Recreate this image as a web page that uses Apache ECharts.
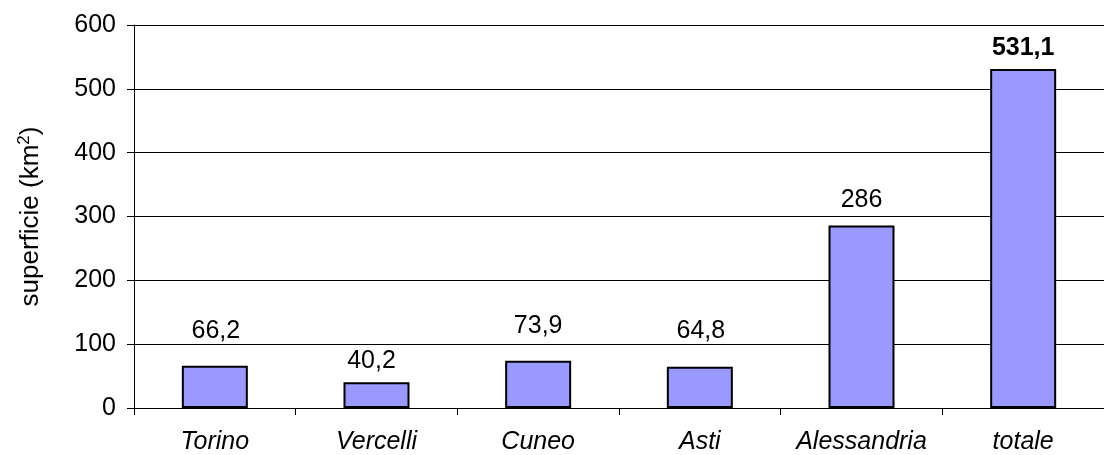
<!DOCTYPE html>
<html><head><meta charset="utf-8">
<script src="https://cdn.jsdelivr.net/npm/echarts@6/dist/echarts.min.js"></script>
<style>html,body{margin:0;padding:0;background:#fff}#c{width:1104px;height:455px}</style>
</head><body><div id="c"></div>
<script>
var categories = ['Torino', 'Vercelli', 'Cuneo', 'Asti', 'Alessandria', 'totale'];
var values = [66.2, 40.2, 73.9, 64.8, 286, 531.1];
var yTicks = [0, 100, 200, 300, 400, 500, 600];

// label placement (style only): gap above bar, horizontal nudge
var labelDistance = [22, 9, 22, 23, 13, 8];
var labelNudgeX = [1, -5, 0, 1, 0, 0];

var chart = echarts.init(document.getElementById('c'), null, {renderer: 'canvas'});
var font = 'Liberation Sans, Arial, sans-serif';
chart.setOption({
  animation: false,
  grid: {left: 134, right: -8, top: 25, bottom: 47},
  xAxis: {
    type: 'category', data: categories,
    axisLine: {lineStyle: {color: '#000', width: 1}},
    axisTick: {show: true, length: 7, interval: 0, lineStyle: {color: '#000'}},
    axisLabel: {color: '#000', fontFamily: font, fontSize: 25, fontStyle: 'italic', margin: 22, interval: 0}
  },
  yAxis: {
    type: 'value', min: yTicks[0], max: yTicks[yTicks.length - 1], interval: 100,
    name: 'superficie (km{sup|2})', nameLocation: 'middle', nameGap: 89, nameRotate: 90,
    nameTextStyle: {color: '#000', fontFamily: font, fontSize: 26,
      rich: {sup: {fontSize: 17, fontFamily: font, color: '#000', verticalAlign: 'top', padding: [0, 0, 12, 0]}}},
    axisLine: {show: true, lineStyle: {color: '#000', width: 1}},
    axisTick: {show: true, length: 7, lineStyle: {color: '#000'}},
    axisLabel: {color: '#000', fontFamily: font, fontSize: 25, margin: 18},
    splitLine: {show: true, lineStyle: {color: '#000', width: 1}}
  },
  series: [{
    type: 'bar', data: values.map(function (v, i) {
      var lab = {distance: labelDistance[i], offset: [labelNudgeX[i], 0]};
      if (i === values.length - 1) lab.fontWeight = 'bold';
      return {value: v, label: lab};
    }),
    barWidth: 66,
    itemStyle: {color: '#9999FF', borderColor: '#000', borderWidth: 2},
    label: {show: true, position: 'top', color: '#000', fontFamily: font, fontSize: 25,
      formatter: function (p) { return String(p.value).replace('.', ','); }}
  }]
});
</script></body></html>
